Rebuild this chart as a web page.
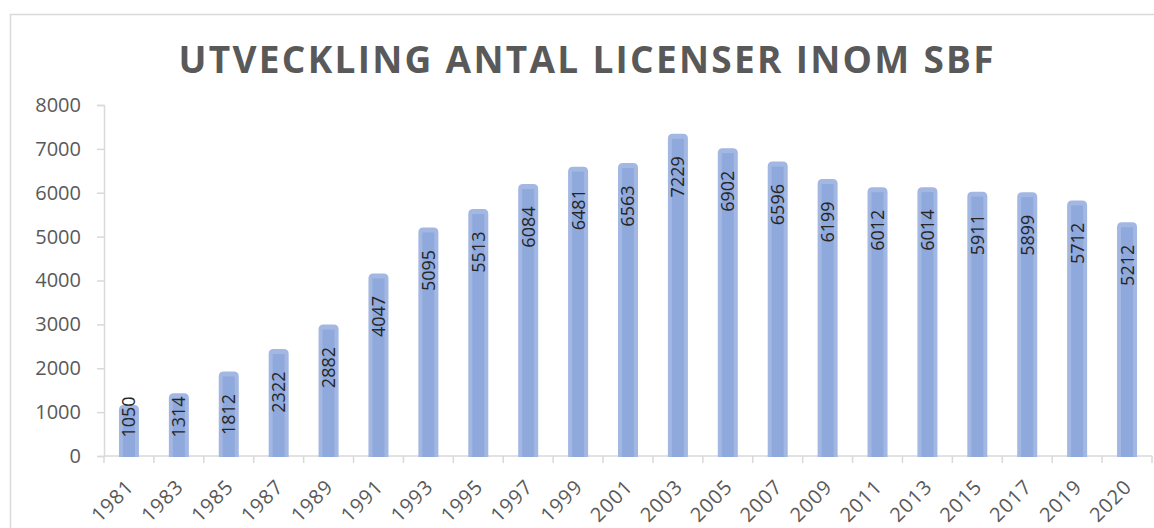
<!DOCTYPE html>
<html>
<head>
<meta charset="utf-8">
<script src="https://cdn.jsdelivr.net/npm/d3@7"></script>
<style>
  body { margin: 0; background: #fff; }
  #chart { width: 1154px; height: 528px; }
</style>
</head>
<body>
<div id="chart"></div>
<script>
// Data
const years = ["1981", "1983", "1985", "1987", "1989", "1991", "1993", "1995", "1997", "1999",
  "2001", "2003", "2005", "2007", "2009", "2011", "2013", "2015", "2017", "2019", "2020"];
const licenses = [1050, 1314, 1812, 2322, 2882, 4047, 5095, 5513, 6084, 6481,
  6563, 7229, 6902, 6596, 6199, 6012, 6014, 5911, 5899, 5712, 5212];
const yTicks = [0, 1000, 2000, 3000, 4000, 5000, 6000, 7000, 8000];
const chartTitle = "UTVECKLING ANTAL LICENSER INOM SBF";

function drawChart() {
  const width = 1154;
  const height = 528;
  const plot = { left: 104, right: 1152, top: 105, bottom: 456 };
  const axisColor = "#d9d9d9";
  const textColor = "#595959";

  const svg = d3
    .select("#chart")
    .append("svg")
    .attr("width", width)
    .attr("height", height);

  // Chart frame (cut off at right and bottom like the screenshot)
  svg
    .append("rect")
    .attr("x", 10.5)
    .attr("y", 14.5)
    .attr("width", width)
    .attr("height", height)
    .attr("fill", "#fff")
    .attr("stroke", axisColor)
    .attr("stroke-width", 1.5);

  svg
    .append("text")
    .attr("x", 586)
    .attr("y", 73)
    .attr("text-anchor", "middle")
    .attr("font-family", "Open Sans")
    .attr("font-weight", "bold")
    .attr("font-size", "37px")
    .attr("fill", textColor)
    .attr("textLength", 815)
    .attr("lengthAdjust", "spacing")
    .text(chartTitle);

  const xScale = d3
    .scaleBand()
    .domain(years)
    .range([plot.left, plot.right])
    .paddingInner(0)
    .paddingOuter(0);

  const yScale = d3
    .scaleLinear()
    .domain([0, 8000])
    .range([plot.bottom, plot.top]);

  // Y axis
  const yAxis = svg
    .append("g")
    .attr("transform", `translate(${plot.left}, 0)`)
    .call(
      d3
        .axisLeft(yScale)
        .tickValues(yTicks)
        .tickFormat(d3.format("d"))
        .tickSize(7)
        .tickPadding(16)
    );
  yAxis.select(".domain").attr("stroke", axisColor).attr("stroke-width", 1.5);
  yAxis.selectAll(".tick line").attr("stroke", axisColor).attr("stroke-width", 1.5);
  yAxis
    .selectAll(".tick text")
    .attr("font-family", "Open Sans")
    .attr("font-size", "20px")
    .attr("fill", textColor);

  // X axis: ticks on the band boundaries
  const xAxisG = svg.append("g");
  xAxisG
    .append("line")
    .attr("x1", plot.left)
    .attr("x2", plot.right)
    .attr("y1", plot.bottom)
    .attr("y2", plot.bottom)
    .attr("stroke", axisColor)
    .attr("stroke-width", 1.5);

  const boundaries = d3.range(years.length + 1);
  xAxisG
    .selectAll(".x-tick")
    .data(boundaries)
    .join("line")
    .attr("class", "x-tick")
    .attr("x1", (i) => plot.left + i * xScale.step())
    .attr("x2", (i) => plot.left + i * xScale.step())
    .attr("y1", plot.bottom)
    .attr("y2", plot.bottom + 7)
    .attr("stroke", axisColor)
    .attr("stroke-width", 1.5);

  xAxisG
    .selectAll(".x-label")
    .data(years)
    .join("text")
    .attr("class", "x-label")
    .attr("transform", (d) => {
      const cx = xScale(d) + xScale.bandwidth() / 2;
      return `translate(${cx - 4}, ${plot.bottom + 22}) rotate(-45)`;
    })
    .attr("text-anchor", "end")
    .attr("dy", "0.71em")
    .attr("font-family", "Open Sans")
    .attr("font-size", "20px")
    .attr("letter-spacing", "1px")
    .attr("fill", textColor)
    .text((d) => d);

  // Bars with rounded tops and a slightly darker middle stripe
  const barWidth = 20;
  const cap = 5;

  function barPath(x, top, w, r, bottom) {
    return `M${x},${bottom} L${x},${top + r} Q${x},${top} ${x + r},${top}` +
      ` L${x + w - r},${top} Q${x + w},${top} ${x + w},${top + r} L${x + w},${bottom} Z`;
  }

  const bars = svg
    .append("g")
    .selectAll(".bar")
    .data(licenses)
    .join("g")
    .attr("class", "bar");

  bars
    .append("path")
    .attr("fill", "#a3b7e3")
    .attr("d", (d, i) => {
      const x = xScale(years[i]) + (xScale.bandwidth() - barWidth) / 2;
      return barPath(x, yScale(d) - cap, barWidth, cap, plot.bottom + 1);
    });

  bars
    .append("rect")
    .attr("fill", "#8fa9dc")
    .attr("x", (d, i) => xScale(years[i]) + (xScale.bandwidth() - barWidth) / 2 + 4)
    .attr("y", (d) => yScale(d))
    .attr("width", barWidth - 8)
    .attr("height", (d) => plot.bottom + 1 - yScale(d));

  // Value labels, rotated, near the inside end of the bar
  bars
    .append("text")
    .attr("transform", (d, i) => {
      const cx = xScale(years[i]) + xScale.bandwidth() / 2;
      const cy = Math.min(yScale(d) + 38, plot.bottom - 39);
      return `translate(${cx}, ${cy}) rotate(-90)`;
    })
    .attr("text-anchor", "middle")
    .attr("dy", "0.36em")
    .attr("font-family", "Open Sans")
    .attr("font-size", "18px")
    .attr("fill", "#262626")
    .text((d) => d);
}

document.addEventListener("DOMContentLoaded", drawChart);
</script>
</body>
</html>
